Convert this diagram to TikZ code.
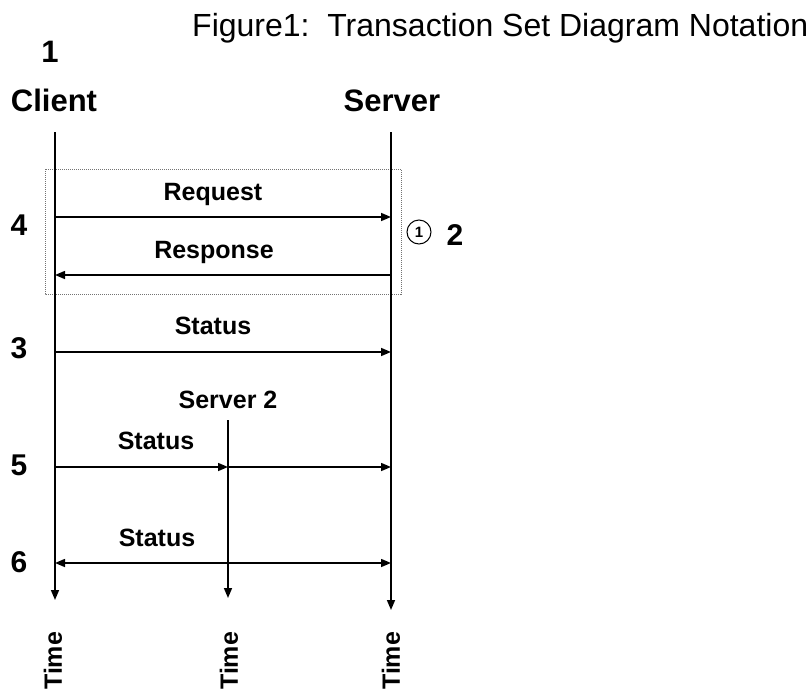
\documentclass[tikz,border=0pt]{standalone}
\usepackage{fontspec}
\setmainfont{Liberation Sans}
\usetikzlibrary{arrows.meta}
\begin{document}
\begin{tikzpicture}[x=1pt,y=-1pt,
  title/.style={font=\fontsize{32}{36}\selectfont, inner sep=0, anchor=base west},
  lbl/.style={font=\fontsize{25}{30}\selectfont\bfseries, inner sep=0, anchor=base},
  head/.style={font=\fontsize{31}{36}\selectfont\bfseries, inner sep=0, anchor=base},
  num/.style={font=\fontsize{30}{34}\selectfont\bfseries, inner sep=0, anchor=base},
  timelbl/.style={font=\fontsize{25}{30}\selectfont\bfseries, inner sep=0, anchor=west, rotate=90},
  tip/.tip={Triangle[length=10,width=8]},
  life/.style={line width=1.5, -tip},
  msg/.style={line width=1.5, -tip},
  group/.style={draw=black!55, line width=0.8, dash pattern=on 1 off 1},
]
\useasboundingbox (0,0) rectangle (812,691);

% heading
\node[title] (ttl) at (192,36) {Figure1:\ \ Transaction Set Diagram Notation};
\node[head] (n1) at (50,62) {1};
\node[head] (client) at (54,111) {Client};
\node[head] (server) at (392,111) {Server};

% lifeline end points
\coordinate (cTop) at (55,132);
\coordinate (cEnd) at (55,600);
\coordinate (sTop) at (391,132);
\coordinate (sEnd) at (391,610);
\coordinate (s2Top) at (228,420);
\coordinate (s2End) at (228,598);

% request / response group
\draw[group] (45,169) rectangle (401,294);

\draw[life] (cTop) -- (cEnd);
\draw[life] (sTop) -- (sEnd);
\draw[life] (s2Top) -- (s2End);

% message anchors on the lifelines
\coordinate (reqA) at (55,217);   \coordinate (reqB) at (391,217);
\coordinate (resA) at (55,275);   \coordinate (resB) at (391,275);
\coordinate (st3A) at (55,352);   \coordinate (st3B) at (391,352);
\coordinate (st5A) at (55,467);   \coordinate (st5M) at (228,467);   \coordinate (st5B) at (391,467);
\coordinate (st6A) at (55,563);   \coordinate (st6B) at (391,563);

\draw[msg] (reqA) -- (reqB);
\draw[msg] (resB) -- (resA);
\draw[msg] (st3A) -- (st3B);
\draw[msg] (st5A) -- (st5M);
\draw[msg] (st5M) -- (st5B);
\draw[line width=1.5, tip-tip] (st6A) -- (st6B);

% message labels
\node[lbl] (lreq) at (213,200) {Request};
\node[lbl] (lres) at (214,258) {Response};
\node[lbl] (lst3) at (213,334) {Status};
\node[lbl] (ls2) at (228,408) {Server 2};
\node[lbl] (lst5) at (156,449) {Status};
\node[lbl] (lst6) at (157,546) {Status};

% callout numbers
\node[num] (n4) at (19,235) {4};
\node[num] (n3) at (19,358) {3};
\node[num] (n5) at (19,475) {5};
\node[num] (n6) at (19,572) {6};
\node[circle, draw, line width=1, minimum size=24, inner sep=0,
      font=\fontsize{15}{15}\selectfont\bfseries] (c1) at (419,232) {1};
\node[num] (n2) at (455,245) {2};

% time axes
\node[timelbl] (t1) at (53,690) {Time};
\node[timelbl] (t2) at (229,690) {Time};
\node[timelbl] (t3) at (391,690) {Time};
\end{tikzpicture}
\end{document}
